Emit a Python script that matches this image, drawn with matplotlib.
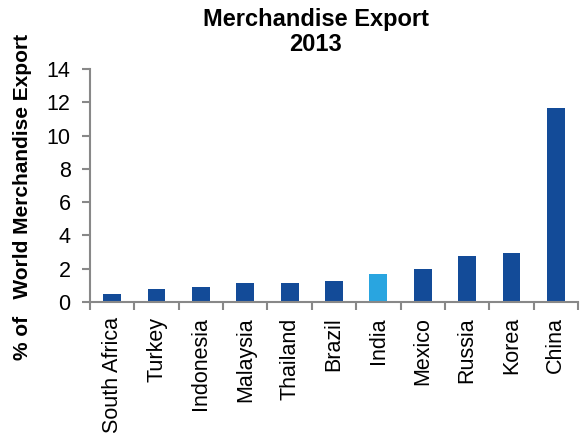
import matplotlib
matplotlib.use("Agg")
import matplotlib.pyplot as plt
import numpy as np

plt.rcParams['font.family'] = ['Liberation Sans', 'DejaVu Sans']

countries = ["South Africa", "Turkey", "Indonesia", "Malaysia", "Thailand",
             "Brazil", "India", "Mexico", "Russia", "Korea", "China"]
values = [0.48, 0.77, 0.93, 1.17, 1.17, 1.25, 1.66, 1.98, 2.75, 2.95, 11.65]
highlight = "India"
dark = "#134B98"
light = "#29A5E0"
yticks = [0, 2, 4, 6, 8, 10, 12, 14]

W, H = 583, 434
fig = plt.figure(figsize=(W / 100, H / 100), dpi=100)
ax = fig.add_axes([90 / W, (H - 302) / H, 488 / W, (302 - 69) / H])

x = np.arange(len(countries))
colors = [light if c == highlight else dark for c in countries]
ax.bar(x, values, width=0.4, color=colors, zorder=2)

ax.set_xlim(-0.5, len(countries) - 0.5)
ax.set_ylim(0, 14)
ax.set_yticks(yticks)
ax.set_yticklabels([str(v) for v in yticks], fontsize=15.5)

ax.set_xticks(np.arange(len(countries) + 1) - 0.5)
ax.set_xticklabels([])
ax.set_xticks(x, minor=True)
ax.set_xticklabels(countries, minor=True, rotation=90, fontsize=15.5)
ax.tick_params(axis='x', which='minor', length=0, pad=11)
ax.tick_params(axis='x', which='major', length=6, width=1.5, color="#888888", direction='out')
ax.tick_params(axis='y', length=6, width=1.5, color="#888888", direction='out', pad=8)

for s in ['top', 'right']:
    ax.spines[s].set_visible(False)
for s in ['left', 'bottom']:
    ax.spines[s].set_color("#888888")
    ax.spines[s].set_linewidth(1.5)

fig.text(316 / W, 1 - 32 / H, "Merchandise Export\n2013", ha='center', va='center',
         fontsize=17, fontweight='bold', linespacing=1.1)
fig.text(23 / W, 1 - 197 / H, "% of   World Merchandise Export", rotation=90,
         ha='center', va='center', fontsize=15, fontweight='bold')

fig.savefig("out.png", dpi=100)
